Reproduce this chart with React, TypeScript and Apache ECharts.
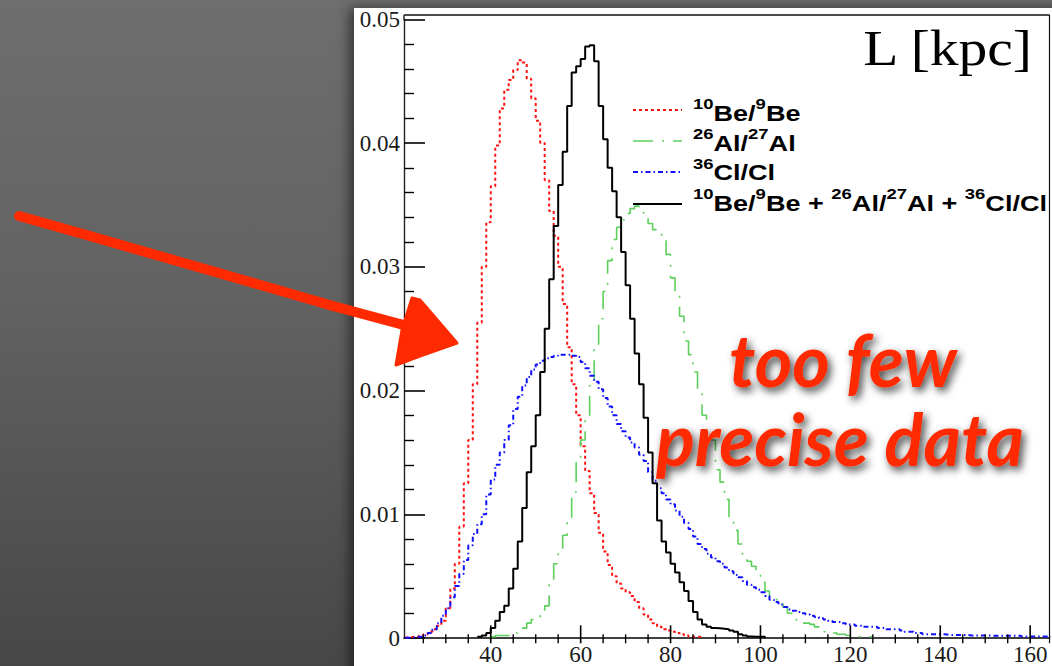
import React, { useEffect, useRef } from "react";
import * as echarts from "echarts";

// ---------- axis description ----------
const X_MIN = 20.7;
const X_MAX = 164.3;
const Y_MIN = 0;
const Y_MAX = 0.05;
const Y_INTERVAL = 0.01;
const X_MAJOR_TICKS = [40, 60, 80, 100, 120, 140, 160];
const X_MINOR_TICKS = [25, 30, 35, 45, 50, 55, 65, 70, 75, 85, 90, 95, 105, 110, 115, 125, 130, 135, 145, 150, 155];
const AXIS_TITLE = "L [kpc]";

// ---------- histograms (bin width 1 kpc, first bin left edge given) ----------
const BE_START = 21;
const BE_VALUES = [
  0.00005, 0.0001, 0.0001, 0.0002, 0.0003, 0.0005, 0.0007, 0.001, 0.0014, 0.0024,
  0.004, 0.006, 0.009, 0.0125, 0.016, 0.0205, 0.0255, 0.03, 0.0336, 0.0365,
  0.0398, 0.0428, 0.0443, 0.0451, 0.0459, 0.0467, 0.0465, 0.0452, 0.0436, 0.0418,
  0.04, 0.037, 0.0345, 0.0325, 0.03, 0.027, 0.0235, 0.0205, 0.018, 0.0155,
  0.0135, 0.0117, 0.0101, 0.0085, 0.007, 0.0059, 0.005, 0.0044, 0.004, 0.0037,
  0.0034, 0.0029, 0.0024, 0.0019, 0.0015, 0.0012, 0.0009, 0.0007, 0.0006, 0.0005,
  0.0004, 0.0003, 0.0002, 0.0001, 0.0001, 0.0001,
];

const AL_START = 40;
const AL_VALUES = [
  0.0001, 0.0002, 0.0002, 0.0002, 0.0002, 0.0004, 0.0006, 0.0008, 0.0012, 0.0015,
  0.0017, 0.0019, 0.0026, 0.0045, 0.006, 0.0072, 0.0083, 0.0095, 0.0118, 0.0142,
  0.016, 0.0178, 0.0205, 0.0235, 0.0258, 0.028, 0.0305, 0.0322, 0.0332, 0.0338,
  0.0343, 0.0347, 0.0349, 0.0347, 0.0342, 0.0335, 0.033, 0.0327, 0.0322, 0.031,
  0.0291, 0.028, 0.026, 0.024, 0.0229, 0.0215, 0.02, 0.018, 0.0168, 0.016,
  0.0136, 0.0126, 0.0112, 0.0098, 0.0087, 0.0076, 0.0066, 0.0062, 0.0058, 0.0052,
  0.0045, 0.0038, 0.0034, 0.0031, 0.0029, 0.0025, 0.002, 0.0016, 0.0013, 0.0012,
  0.0012, 0.0011, 0.0009, 0.0007, 0.0005, 0.0004, 0.0004, 0.0003, 0.0003, 0.0002,
  0.0001, 0.0001, 0.0001, 0.0001, 0.0001,
];

const CL_START = 21;
const CL_VALUES = [
  0.00002, 0.00005, 0.0001, 0.0001, 0.0002, 0.0004, 0.0007, 0.0012, 0.0018, 0.0024,
  0.0033, 0.0042, 0.0052, 0.0063, 0.0075, 0.0084, 0.0092, 0.01, 0.0116, 0.0128,
  0.014, 0.015, 0.016, 0.0172, 0.0185, 0.0195, 0.0204, 0.0211, 0.0217, 0.0221,
  0.0224, 0.0226, 0.0227, 0.0228, 0.0229, 0.0229, 0.0229, 0.0228, 0.0227, 0.0223,
  0.0218, 0.0212, 0.0207, 0.0201, 0.0194, 0.0187, 0.018, 0.0173, 0.0167, 0.0162,
  0.0158, 0.0154, 0.0148, 0.0143, 0.0134, 0.0127, 0.0121, 0.0117, 0.0112, 0.0108,
  0.0103, 0.0098, 0.0093, 0.0088, 0.0082, 0.0076, 0.0072, 0.0068, 0.0065, 0.0062,
  0.006, 0.0057, 0.0054, 0.0051, 0.0049, 0.0046, 0.0043, 0.0041, 0.0039, 0.0037,
  0.0034, 0.0031, 0.0029, 0.0027, 0.0025, 0.0023, 0.0022, 0.0021, 0.002, 0.0019,
  0.0018, 0.0017, 0.0016, 0.0015, 0.0014, 0.0013, 0.0013, 0.0012, 0.0011, 0.0011,
  0.001, 0.001, 0.0009, 0.0009, 0.0009, 0.0008, 0.0008, 0.0007, 0.0007, 0.0007,
  0.0006, 0.0005, 0.0005, 0.0004, 0.0004, 0.0003, 0.0003, 0.0003, 0.0003, 0.0003,
  0.00025, 0.00025, 0.00025, 0.00025, 0.00025, 0.0002, 0.0002, 0.0002, 0.0002, 0.0002,
  0.00018, 0.00018, 0.00018, 0.00018, 0.00018, 0.00018, 0.00018, 0.00012, 0.00012, 0.00012,
  0.00012, 0.00012, 0.00012, 0.00012,
];

const SUM_START = 37;
const SUM_VALUES = [
  0.0001, 0.0002, 0.0004, 0.0008, 0.0014, 0.0021, 0.0026, 0.004, 0.0056, 0.0078,
  0.0105, 0.0134, 0.0155, 0.018, 0.0215, 0.025, 0.029, 0.0333, 0.0366, 0.0393,
  0.043, 0.0457, 0.0462, 0.0468, 0.0478, 0.0479, 0.0466, 0.043, 0.0403, 0.038,
  0.0361, 0.034, 0.0312, 0.0285, 0.0258, 0.023, 0.0205, 0.0178, 0.015, 0.0125,
  0.0095, 0.0078, 0.0069, 0.006, 0.0053, 0.0045, 0.0038, 0.003, 0.0021, 0.0015,
  0.0011, 0.0009, 0.0008, 0.00078, 0.00075, 0.0007, 0.0006, 0.0005, 0.0003, 0.0002,
  0.00013, 0.0001, 0.0001, 0.0001,
];

// legend rows: rich-text label per series
const LEGEND_LABELS = [
  "{s|10}{m|Be/}{s|9}{m|Be}",
  "{s|26}{m|Al/}{s|27}{m|Al}",
  "{s|36}{m|Cl/Cl}",
  "{s|10}{m|Be/}{s|9}{m|Be + }{s|26}{m|Al/}{s|27}{m|Al + }{s|36}{m|Cl/Cl}",
];
const SERIES_NAMES = ["10Be/9Be", "26Al/27Al", "36Cl/Cl", "10Be/9Be + 26Al/27Al + 36Cl/Cl"];
const ANNOTATION_LINES = ["too few", "precise data"];

const COLORS = ["#ff1010", "#5ccf5c", "#1010ff", "#000000"];
const DASHES: (number[] | "solid")[] = [[3, 3], [20, 9, 2, 9], [5, 3, 1.5, 3], "solid"];
const WIDTHS = [2, 1.6, 2, 2];

// plot frame (the frame top sits a little above the 0.05 value)
const GRID = { left: 404, top: 19.3, right: 2.5, bottom: 22.7 };
const FRAME_TOP = 15;
const W = 1052;
const H = 666;

function hist(start: number, values: number[]): number[][] {
  const pts = values.map((v, i) => [start + i, v]);
  pts.push([start + values.length, 0]);
  return pts;
}

// linear scale identical to the grid's x value axis
function xPix(x: number): number {
  const pw = W - GRID.left - GRID.right;
  return GRID.left + ((x - X_MIN) / (X_MAX - X_MIN)) * pw;
}

export default function App() {
  const ref = useRef<HTMLDivElement>(null);

  useEffect(() => {
    if (!ref.current) return;
    const chart = echarts.init(ref.current, null, { renderer: "svg" });
    const histos = [
      hist(BE_START, BE_VALUES),
      hist(AL_START, AL_VALUES),
      hist(CL_START, CL_VALUES),
      hist(SUM_START, SUM_VALUES),
    ];
    const serifFont = "Liberation Serif";
    const sansFont = "Liberation Sans";
    const red = "#ff2a00";
    const bottomY = H - GRID.bottom;
    const rightX = W - GRID.right;

    const legendY = [110, 141, 172, 204];
    const legendTextY = [113, 143, 172.5, 203];
    const legendGraphics: any[] = [];
    for (let i = 0; i < 4; i++) {
      legendGraphics.push({
        type: "line",
        shape: { x1: 633, y1: legendY[i], x2: 682, y2: legendY[i] },
        style: {
          stroke: COLORS[i],
          lineWidth: WIDTHS[i],
          lineDash: DASHES[i] === "solid" ? null : (DASHES[i] as number[]),
        },
        z: 50,
      });
      legendGraphics.push({
        type: "text",
        x: 693,
        y: legendTextY[i],
        scaleX: 1.23,
        style: {
          text: LEGEND_LABELS[i],
          align: "left",
          verticalAlign: "middle",
          fill: "#000",
          rich: {
            s: {
              fontFamily: sansFont,
              fontWeight: "bold",
              fontSize: 15,
              lineHeight: 15,
              padding: [0, 0, 12, 0],
              verticalAlign: "bottom",
              fill: "#000",
            },
            m: {
              fontFamily: sansFont,
              fontWeight: "bold",
              fontSize: 22,
              lineHeight: 22,
              verticalAlign: "bottom",
              fill: "#000",
            },
          },
        },
        z: 50,
      });
    }

    // x ticks (axis min is not a multiple of the tick step)
    const tickGraphics: any[] = [];
    X_MAJOR_TICKS.forEach((v) => {
      const px = xPix(v);
      tickGraphics.push({
        type: "line",
        shape: { x1: px, y1: bottomY, x2: px, y2: bottomY - 18 },
        style: { stroke: "#000", lineWidth: 1.6 },
        z: 60,
      });
    });
    X_MINOR_TICKS.forEach((v) => {
      const px = xPix(v);
      tickGraphics.push({
        type: "line",
        shape: { x1: px, y1: bottomY, x2: px, y2: bottomY - 9 },
        style: { stroke: "#000", lineWidth: 1.4 },
        z: 60,
      });
    });

    // frame: top and right edges, and the top bit of the left edge
    const frameGraphics: any[] = [
      {
        type: "line",
        shape: { x1: GRID.left, y1: FRAME_TOP, x2: rightX, y2: FRAME_TOP },
        style: { stroke: "#111", lineWidth: 1.4 },
        z: 60,
      },
      {
        type: "line",
        shape: { x1: rightX, y1: FRAME_TOP, x2: rightX, y2: bottomY },
        style: { stroke: "#111", lineWidth: 1.2 },
        z: 60,
      },
      {
        type: "line",
        shape: { x1: GRID.left, y1: FRAME_TOP, x2: GRID.left, y2: GRID.top + 1 },
        style: { stroke: "#222", lineWidth: 1.4 },
        z: 60,
      },
    ];

    const bigTextStyle = {
      align: "center",
      verticalAlign: "middle",
      fontFamily: "Lato",
      fontStyle: "italic",
      fontWeight: "bold",
      fontSize: 72,
      fill: red,
      textShadowColor: "rgba(0,0,0,0.75)",
      textShadowBlur: 9,
      textShadowOffsetX: 3,
      textShadowOffsetY: 4,
    };

    const option: any = {
      animation: false,
      backgroundColor: "transparent",
      grid: { ...GRID, show: false },
      xAxis: {
        type: "value",
        min: X_MIN,
        max: X_MAX,
        position: "bottom",
        axisLine: { show: true, onZero: false, lineStyle: { color: "#000", width: 1.6 } },
        axisTick: { show: false },
        axisLabel: {
          show: true,
          customValues: X_MAJOR_TICKS,
          fontFamily: serifFont,
          fontSize: 23,
          color: "#1a1a1a",
          margin: 5,
        },
        splitLine: { show: false },
      },
      yAxis: {
        type: "value",
        min: Y_MIN,
        max: Y_MAX,
        interval: Y_INTERVAL,
        position: "left",
        axisLine: { show: true, onZero: false, lineStyle: { color: "#222", width: 1.4 } },
        axisTick: { show: true, inside: true, length: 21, lineStyle: { color: "#000", width: 1.6 } },
        minorTick: { show: true, splitNumber: 5, length: 10, lineStyle: { color: "#000", width: 1.4 } },
        axisLabel: {
          show: true,
          formatter: (v: number) => (v === 0 ? "0" : v.toFixed(2)),
          fontFamily: serifFont,
          fontSize: 23,
          color: "#1a1a1a",
          margin: 4,
        },
        splitLine: { show: false },
        minorSplitLine: { show: false },
      },
      series: histos.map((data, i) => ({
        name: SERIES_NAMES[i],
        type: "line",
        step: "end",
        data,
        symbol: "none",
        showSymbol: false,
        silent: true,
        clip: true,
        z: 3 + i,
        lineStyle: { color: COLORS[i], width: WIDTHS[i], type: DASHES[i] },
      })),
      graphic: [
        {
          type: "text",
          x: 1032,
          y: 48,
          scaleX: 1.15,
          style: {
            text: AXIS_TITLE,
            align: "right",
            verticalAlign: "middle",
            fontFamily: serifFont,
            fontSize: 50,
            fill: "#000",
          },
          z: 50,
        },
        ...legendGraphics,
        ...tickGraphics,
        ...frameGraphics,
        {
          type: "polyline",
          shape: {
            points: [
              [19, 216],
              [90, 236],
              [170, 259],
              [250, 282],
              [333, 306],
              [400, 324],
              [412, 328],
            ],
          },
          style: { stroke: red, lineWidth: 10, fill: null, lineCap: "round", lineJoin: "round" },
          z: 100,
        },
        {
          type: "polygon",
          shape: {
            points: [
              [412, 298],
              [420, 300],
              [457, 343],
              [420, 356],
              [396, 365],
              [402, 330],
            ],
          },
          style: { fill: red, stroke: red, lineWidth: 3, lineJoin: "round" },
          z: 100,
        },
        { type: "text", x: 843, y: 359, style: { ...bigTextStyle, text: ANNOTATION_LINES[0] }, z: 90 },
        { type: "text", x: 840, y: 438, style: { ...bigTextStyle, text: ANNOTATION_LINES[1] }, z: 90 },
      ],
    };

    chart.setOption(option);
    return () => chart.dispose();
  }, []);

  return (
    <div
      style={{
        position: "fixed",
        left: 0,
        top: 0,
        width: W,
        height: H,
        overflow: "hidden",
        background: "linear-gradient(180deg, #6e6e6e 0%, #626262 45%, #474747 100%)",
      }}
    >
      <div
        style={{
          position: "absolute",
          left: 354,
          top: 8,
          width: 720,
          height: 700,
          background: "#ffffff",
          boxShadow: "-4px 0 12px rgba(0,0,0,0.55)",
        }}
      />
      <div ref={ref} style={{ position: "absolute", left: 0, top: 0, width: W, height: H }} />
    </div>
  );
}
